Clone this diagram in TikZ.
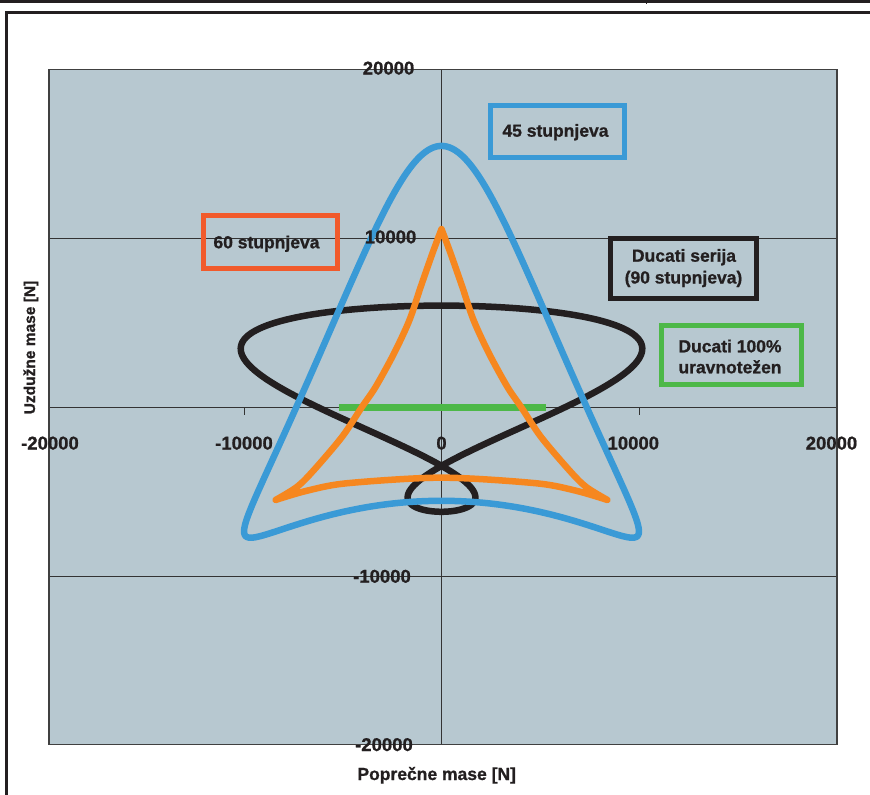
\documentclass[tikz,border=0pt]{standalone}
\usepackage{fontspec}
\setmainfont{Liberation Sans}[BoldFeatures={FakeBold=0.9}]
\definecolor{ink}{HTML}{231F20}
\definecolor{plotbg}{HTML}{B7C8D0}
\definecolor{gridc}{HTML}{333333}
\definecolor{bordc}{HTML}{404040}
\definecolor{bluec}{HTML}{3A9AD6}
\definecolor{orangec}{HTML}{F6871F}
\definecolor{greenc}{HTML}{4DB848}
\definecolor{redc}{HTML}{F15A2B}
\begin{document}
\begin{tikzpicture}[x=1pt,y=-1pt,
  lbl/.style={font=\bfseries\fontsize{17.5}{21}\selectfont, text=ink, inner sep=0pt, anchor=base},
  ticklbl/.style={font=\bfseries\fontsize{18.5}{22}\selectfont, text=ink, inner sep=0pt},
  keybox/.style={line width=5pt, inner sep=0pt},
  curve/.style={line width=6.5pt, line join=round, line cap=round},
  gridl/.style={line width=0.9pt, draw=gridc}]
\useasboundingbox (0,0) rectangle (870,795);
\fill[white] (0,0) rectangle (870,795);
% page frame
\draw[line width=2.6pt, ink] (0,1.3) -- (870,1.3);
\draw[line width=1.2pt, ink] (646.7,0) -- (646.7,3.5);
\draw[line width=2.5pt, ink] (870,12.4) -- (6.3,12.4) -- (6.3,795);
% plot area
\fill[plotbg] (49,69.5) rectangle (837,744.5);
\draw[gridl] (49,238) -- (837,238);
\draw[gridl] (49,576) -- (837,576);
\draw[gridl] (49,407) -- (837,407);
\draw[gridl] (441.5,69.5) -- (441.5,744.5);
\draw[gridl] (244,407) -- (244,415);
\draw[gridl] (639,407) -- (639,415);
\draw[line width=1.5pt, bordc] (49,69.5) rectangle (837,744.5);
% data
\begin{scope}[shift={(441.5,407)}, x=19.75pt, y=16.9pt]
  \draw[line width=7pt, greenc] (-5.2,0) -- (5.3,0);
  \draw[curve, ink] plot[domain=0:360, samples=241, smooth, variable=\t]
     ({6.1*sin(\t)+5.5*sin(2*\t)}, {6.1*cos(\t)-0.1}) -- cycle;
  \draw[curve, bluec] plot[domain=0:360, samples=241, smooth, variable=\t]
     ({-9.27*sin(\t)+2.0*sin(2*\t)}, {10.5*cos(\t)+4.95*cos(2*\t)}) -- cycle;
  \draw[curve, orangec]
     plot[smooth] coordinates {(0,10.53) (0.46,9.09) (1.05,7.12) (1.62,5.15) (2.40,3.18) (3.33,1.20) (4.03,0) (5.03,-1.76) (6.46,-3.73) (7.31,-4.72) (8.4,-5.5)}
     -- plot[smooth] coordinates {(8.4,-5.5) (6.8,-4.95) (4.77,-4.51) (0,-4.18) (-4.77,-4.51) (-6.8,-4.95) (-8.4,-5.5)}
     -- plot[smooth] coordinates {(-8.4,-5.5) (-7.31,-4.72) (-6.46,-3.73) (-5.03,-1.76) (-4.03,0) (-3.33,1.20) (-2.40,3.18) (-1.62,5.15) (-1.05,7.12) (-0.46,9.09) (0,10.53)}
     -- cycle;
\end{scope}
% legend boxes
\node[keybox, draw=bluec, minimum width=133.4pt, minimum height=52.3pt] (k45) at (557.5,131.35) {};
\node[keybox, draw=redc, minimum width=134.3pt, minimum height=52.7pt] (k60) at (270.35,242.15) {};
\node[keybox, draw=ink, minimum width=146.3pt, minimum height=59.3pt] (k90) at (683.15,268.35) {};
\node[keybox, draw=greenc, minimum width=140.3pt, minimum height=58.4pt] (k100) at (731.65,355) {};
\node[lbl] (t45) at (555.5,136.7) {45 stupnjeva};
\node[lbl] (t60) at (266.5,248.3) {60 stupnjeva};
\node[lbl] (t90a) at (684,261.7) {Ducati serija};
\node[lbl] (t90b) at (683.5,283.5) {(90 stupnjeva)};
\node[lbl] (t100a) at (730,352.3) {Ducati 100\%};
\node[lbl] (t100b) at (730,373.3) {uravnotežen};
% tick labels
\node[ticklbl, anchor=base east] (y1) at (414.5,74.5) {20000};
\node[ticklbl, anchor=base east] (y2) at (416.5,243.3) {10000};
\node[ticklbl, anchor=base east] (y3) at (411,582.7) {-10000};
\node[ticklbl, anchor=base east] (y4) at (413,751) {-20000};
\node[ticklbl, anchor=base] (x1) at (50,449.5) {-20000};
\node[ticklbl, anchor=base] (x2) at (244,449.5) {-10000};
\node[ticklbl, anchor=base] (x3) at (441.5,449.5) {0};
\node[ticklbl, anchor=base] (x4) at (633.3,449.5) {10000};
\node[ticklbl, anchor=base] (x5) at (831.5,449.5) {20000};
% axis titles
\node[font=\bfseries\fontsize{17.5}{21}\selectfont, text=ink, inner sep=0pt, anchor=base] (xt) at (436.7,780) {Poprečne mase [N]};
\node[font=\bfseries\fontsize{15.5}{19}\selectfont, text=ink, inner sep=0pt, anchor=base, rotate=90] (yt) at (35,347.5) {Uzdužne mase [N]};
\end{tikzpicture}
\end{document}
